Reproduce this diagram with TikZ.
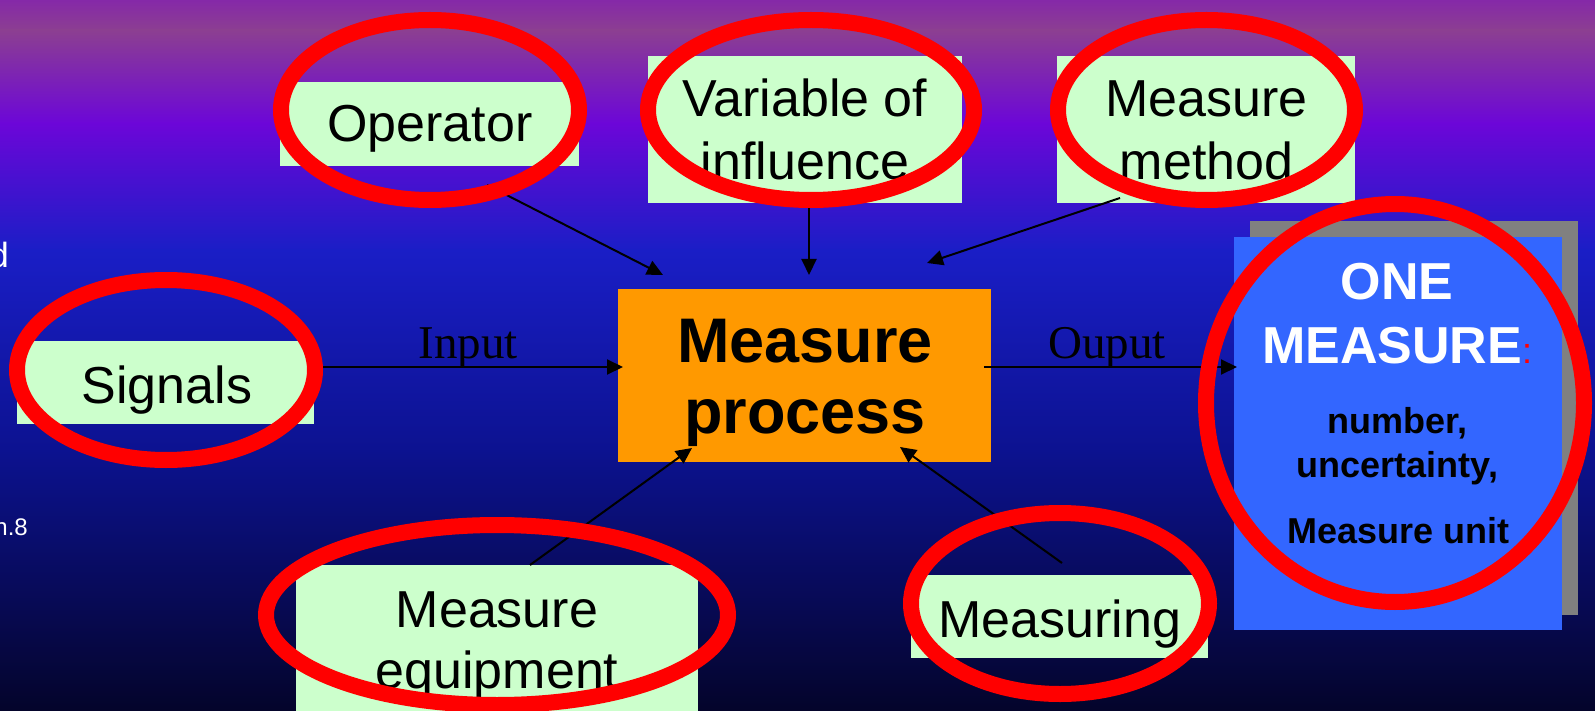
\documentclass[tikz,border=0pt]{standalone}
\usepackage{fontspec}
\setmainfont{Liberation Sans}
\newfontfamily\serifface{Liberation Serif}
\usetikzlibrary{arrows.meta,shapes.geometric}

\definecolor{mint}{HTML}{CCFFCC}
\definecolor{procorange}{HTML}{FF9900}
\definecolor{resultblue}{HTML}{3366FF}
\definecolor{shadowgray}{HTML}{808080}
\definecolor{bgA}{HTML}{8528A9}
\definecolor{bgB}{HTML}{8C3F91}
\definecolor{bgC}{HTML}{6C06D8}
\definecolor{bgD}{HTML}{1A1EC6}
\definecolor{bgE}{HTML}{0C1290}
\definecolor{bgF}{HTML}{04042A}

\tikzset{
  panel/.style={fill=mint, draw=none, inner sep=0pt},
  ring/.style={ellipse, draw=red, line width=16pt, inner sep=0pt},
  boxtext/.style={font=\fontsize{52}{63}\selectfont, anchor=base, inner sep=0pt},
  proctext/.style={font=\fontsize{63}{71}\bfseries, anchor=base, inner sep=0pt},
  bigwhite/.style={font=\fontsize{52}{63}\bfseries, text=white, anchor=base, inner sep=0pt},
  smallbold/.style={font=\fontsize{36}{44}\bfseries, anchor=base, inner sep=0pt},
  flowword/.style={font=\fontsize{47}{56}\serifface, anchor=base, inner sep=0pt},
  sidetext/.style={text=white, anchor=base east, inner sep=0pt},
  feed/.style={line width=2pt, -{Triangle[length=16pt,width=15pt]}},
}

\begin{document}
\begin{tikzpicture}[x=1pt,y=-1pt]
\useasboundingbox (0,0) rectangle (1595,711);

% backdrop: purple at the top fading through violet and blue to near black
\shade[top color=bgA, bottom color=bgB] (-1,-1) rectangle (1596,31);
\shade[top color=bgB, bottom color=bgC] (-1,30) rectangle (1596,124);
\shade[top color=bgC, bottom color=bgD] (-1,123) rectangle (1596,251);
\shade[top color=bgD, bottom color=bgE] (-1,250) rectangle (1596,451);
\shade[top color=bgE, bottom color=bgF] (-1,450) rectangle (1596,712);

% cut-off text at the left margin
\node[sidetext, font=\fontsize{35}{40}\selectfont] (sideA) at (9,268) {d};
\node[sidetext, font=\fontsize{24}{28}\selectfont] (sideB) at (28,535) {n.8};

% result box with its shadow
\node[fill=shadowgray, inner sep=0pt, minimum width=328, minimum height=394] (resShadow) at (1414,418) {};
\node[fill=resultblue, inner sep=0pt, minimum width=328, minimum height=393] (resBox) at (1398,433.5) {};
\node[bigwhite] (resOne) at (1397,299) {ONE};
\node[bigwhite] (resMeasure) at (1397,363) {MEASURE{\fontsize{36}{40}\mdseries\textcolor{red}{:}}};
\node[smallbold] (resNum) at (1397.5,433) {number,};
\node[smallbold] (resUnc) at (1397.5,477) {uncertainty,};
\node[smallbold] (resUnit) at (1398.5,543) {Measure unit};

% central process box
\node[fill=procorange, inner sep=0pt, minimum width=373, minimum height=173] (proc) at (804.5,375.5) {};
\node[proctext] (procA) at (805,362) {Measure};
\node[proctext] (procB) at (805,433) {process};

% factor panels
\node[panel, minimum width=299, minimum height=84] (opBox) at (429.5,124) {};
\node[boxtext] (opText) at (430,142) {Operator};

\node[panel, minimum width=314, minimum height=147] (varBox) at (805,129.5) {};
\node[boxtext] (varTextA) at (805,117) {Variable of};
\node[boxtext] (varTextB) at (805,180) {influence};

\node[panel, minimum width=298, minimum height=147] (methBox) at (1206,129.5) {};
\node[boxtext] (methTextA) at (1206.5,117) {Measure};
\node[boxtext] (methTextB) at (1206.5,180) {method};

\node[panel, minimum width=297, minimum height=83] (sigBox) at (165.5,382.5) {};
\node[boxtext] (sigText) at (167,403) {Signals};

\node[panel, minimum width=402, minimum height=147] (eqBox) at (497,638.5) {};
\node[boxtext] (eqTextA) at (497,627) {Measure};
\node[boxtext] (eqTextB) at (497,688) {equipment};

\node[panel, minimum width=297, minimum height=83] (mingBox) at (1059.5,616.5) {};
\node[boxtext] (mingText) at (1060,637) {Measuring};

% flow labels
\node[flowword] (inWord) at (468,358) {Input};
\node[flowword] (outWord) at (1107,358) {Ouput};

% connector ends
\coordinate (opTail) at (487,185);    \coordinate (opTip) at (663,275);
\coordinate (varTail) at (809,203);   \coordinate (varTip) at (809,275);
\coordinate (methTail) at (1120,198); \coordinate (methTip) at (927,263);
\coordinate (eqTail) at (530,565);    \coordinate (eqTip) at (692,448);
\coordinate (mingTail) at (1062,563); \coordinate (mingTip) at (900,447);
\coordinate (inTail) at (321,367);    \coordinate (inTip) at (623,367);
\coordinate (outTail) at (984,367);   \coordinate (outTip) at (1237,367);

\draw[feed] (opTail) -- (opTip);
\draw[feed] (varTail) -- (varTip);
\draw[feed] (methTail) -- (methTip);
\draw[feed] (eqTail) -- (eqTip);
\draw[feed] (mingTail) -- (mingTip);
\draw[feed] (inTail) -- (inTip);
\draw[feed] (outTail) -- (outTip);

% red rings around each item
\node[ring, minimum width=298, minimum height=180] (opRing) at (430,110) {};
\node[ring, minimum width=326, minimum height=180] (varRing) at (811,110) {};
\node[ring, minimum width=297, minimum height=180] (methRing) at (1206.5,110) {};
\node[ring, minimum width=298, minimum height=180] (sigRing) at (166,370) {};
\node[ring, minimum width=462, minimum height=180] (eqRing) at (497,615) {};
\node[ring, minimum width=298, minimum height=181] (mingRing) at (1060,603.5) {};
\node[ring, minimum width=378, minimum height=398] (resRing) at (1395,403) {};
\end{tikzpicture}
\end{document}
